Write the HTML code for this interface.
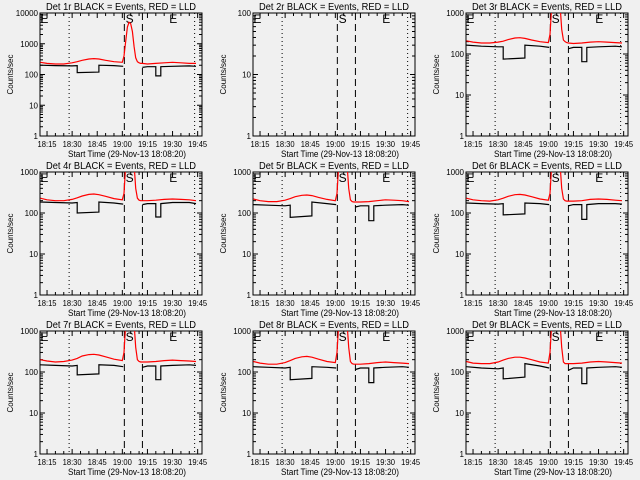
<!DOCTYPE html>
<html><head><meta charset="utf-8">
<style>
html,body{margin:0;padding:0;background:#f0f0f0;}
svg{display:block;font-family:"Liberation Sans",sans-serif;}
</style></head>
<body>
<svg id="chart" width="640" height="480" viewBox="0 0 640 480" xmlns="http://www.w3.org/2000/svg">
<rect x="0" y="0" width="640" height="480" fill="#f0f0f0"/>
</svg>
<script>
// time in minutes after 18:00
const xTickMinutes = [15,30,45,60,75,90,105];
const xTickLabels = ["18:15","18:30","18:45","19:00","19:15","19:30","19:45"];
const dottedLines = [28.2,103.2];
const dashedLines = [61.2,72];
const markerLabels = ["E","S","E"];
const markerTimes = [11,62,88];
const redT = [11,15,20,25,30,33,36,40,43,46,50,55,60,61,62,63,64,65,66,67,68,69,70,71,72,75,80,85,90,95,100,104];
const blackT = [11,20,30,33,33,46,46,55,60.5,null,72,75,80,80,83,83,90,100,104];
const detNames = ["1r","2r","3r","4r","5r","6r","7r","8r","9r"];
const yMaxDecades = [4,2,3,3,3,3,3,3,3];
const red1 = [250,230,220,220,240,260,290,320,330,320,290,260,250,400,1200,3500,5000,4500,2500,800,350,260,240,230,230,220,230,240,250,240,230,230];
const black1 = [200,195,190,195,115,120,200,195,185,null,170,180,180,90,90,180,185,190,185];
const red2 = [];
const black2 = [];
const red3 = [210,195,185,185,195,205,225,245,250,240,220,200,190,300,1500,3000,3000,3000,3000,1500,400,220,200,190,185,180,185,195,200,195,190,185];
const black3 = [165,155,150,150,75,80,165,155,145,null,135,145,145,65,65,145,150,155,150];
const red4 = [230,210,200,200,215,235,260,285,290,280,255,225,210,300,1500,3000,3000,3000,3000,1500,400,230,205,200,200,200,205,215,220,215,210,200];
const black4 = [185,180,175,180,100,105,185,175,165,null,160,170,170,80,80,170,180,180,170];
const red5 = [220,200,190,190,205,225,250,270,275,265,240,215,200,300,1500,3000,3000,3000,3000,1500,400,210,190,185,185,185,190,200,210,205,200,190];
const black5 = [160,155,150,155,78,85,185,170,160,null,140,150,150,65,65,150,155,160,155];
const red6 = [230,210,200,195,210,230,255,280,285,275,250,220,205,300,1500,3000,3000,3000,3000,1500,400,220,200,195,195,195,200,215,220,215,205,200];
const black6 = [175,170,165,170,90,95,175,170,160,null,150,160,160,70,70,160,170,170,165];
const red7 = [200,185,175,180,195,215,245,265,270,260,235,205,190,300,1500,3000,3000,3000,3000,1500,400,200,180,175,175,175,180,190,195,190,185,180];
const black7 = [150,145,140,145,85,90,150,145,135,null,130,140,140,65,65,140,145,150,145];
const red8 = [180,165,155,155,170,190,215,235,240,230,205,180,170,300,1500,3000,3000,3000,3000,1500,400,180,160,155,155,155,160,170,175,170,165,160];
const black8 = [135,130,125,130,65,70,135,130,125,null,115,125,125,55,55,125,130,135,130];
const red9 = [180,165,160,160,175,195,215,230,230,220,200,175,165,300,1500,3000,3000,3000,3000,1500,400,175,160,160,160,160,165,175,180,175,170,165];
const black9 = [135,125,120,125,68,75,160,140,125,null,110,125,125,52,52,125,130,135,130];
const redSeries = [red1,red2,red3,red4,red5,red6,red7,red8,red9];
const blackSeries = [black1,black2,black3,black4,black5,black6,black7,black8,black9];

const NS = "http://www.w3.org/2000/svg";
const svg = document.getElementById("chart");
const colX = [40,253,466], rowY = [13,172,331], PW = 162, PH = 123;
const T0 = 10.8, T1 = 107.6;
function mk(tag, attrs, parent){const e=document.createElementNS(NS,tag);for(const k in attrs)e.setAttribute(k,attrs[k]);parent.appendChild(e);return e;}

for(let p=0;p<9;p++){
  const x0 = colX[p%3], y0 = rowY[Math.floor(p/3)];
  const dec = yMaxDecades[p];
  const xs = t => x0 + (t - T0)/(T1 - T0)*PW;
  const ys = v => y0 + PH - Math.log10(v)/dec*PH;
  const g = mk("g",{},svg);
  
  
  const clip = mk("clipPath",{id:"c"+p},g);
  mk("rect",{x:x0,y:y0,width:PW,height:PH},clip);
  const frame = mk("rect",{x:x0,y:y0,width:PW,height:PH,fill:"none",stroke:"#000","stroke-width":1},g);
  
  
  const title = mk("text",{x:x0+PW/2,y:y0-3,"text-anchor":"middle","font-size":10,textLength:150,lengthAdjust:"spacingAndGlyphs"},g);
  title.textContent = "Det "+detNames[p]+" BLACK = Events, RED = LLD";
  
  
  for(let d=0; d<=dec; d++){
    const y = ys(Math.pow(10,d));
    mk("line",{x1:x0,x2:x0+5,y1:y,y2:y,stroke:"#000"},g);
    mk("line",{x1:x0+PW-5,x2:x0+PW,y1:y,y2:y,stroke:"#000"},g);
    const lab = mk("text",{x:x0-2,y:y+3,"text-anchor":"end","font-size":8},g);
    lab.textContent = String(Math.pow(10,d));
    
    
    if(d<dec) for(let m=2;m<10;m++){
      const ym = ys(m*Math.pow(10,d));
      mk("line",{x1:x0,x2:x0+3,y1:ym,y2:ym,stroke:"#000"},g);
      mk("line",{x1:x0+PW-3,x2:x0+PW,y1:ym,y2:ym,stroke:"#000"},g);
    }
  }
  const yt = mk("text",{x:0,y:0,"text-anchor":"middle","font-size":8,transform:"translate("+(x0-27)+","+(y0+PH/2)+") rotate(-90)"},g);
  yt.textContent = "Counts/sec";
  
  
  for(let m=15;m<=105;m+=5){
    const x = xs(m), major = (m%15===0), L = major?5:3;
    mk("line",{x1:x,x2:x,y1:y0+PH,y2:y0+PH-L,stroke:"#000"},g);
    mk("line",{x1:x,x2:x,y1:y0,y2:y0+L,stroke:"#000"},g);
  }
  xTickMinutes.forEach((m,i)=>{
    const t = mk("text",{x:xs(m),y:y0+PH+11,"text-anchor":"middle","font-size":8,textLength:19,lengthAdjust:"spacingAndGlyphs"},g);
    t.textContent = xTickLabels[i];
    
    
  });
  const xt = mk("text",{x:x0+PW/2+6,y:y0+PH+21,"text-anchor":"middle","font-size":9,textLength:118,lengthAdjust:"spacingAndGlyphs"},g);
  xt.textContent = "Start Time (29-Nov-13 18:08:20)";
  
  
  dottedLines.forEach(m=>{
    const l = mk("line",{x1:xs(m),x2:xs(m),y1:y0,y2:y0+PH,stroke:"#000","stroke-dasharray":"1,3"},g);
    
    
  });
  dashedLines.forEach(m=>{
    const l = mk("line",{x1:xs(m),x2:xs(m),y1:y0,y2:y0+PH,stroke:"#000","stroke-dasharray":"7,4"},g);
    
    
  });
  markerLabels.forEach((s,i)=>{
    const t = mk("text",{x:xs(markerTimes[i]),y:y0+10,"font-size":12},g);
    t.textContent = s;
    
    
  });
  const cg = mk("g",{"clip-path":"url(#c"+p+")"},g);
  const rv = redSeries[p];
  if(rv.length){
    let d="";
    rv.forEach((v,i)=>{d += (i?"L":"M")+xs(redT[i]).toFixed(1)+","+ys(v).toFixed(1);});
    const path = mk("path",{d:d,fill:"none",stroke:"#ff0000","stroke-width":1.2},cg);
    
    
  }
  const bv = blackSeries[p];
  if(bv.length){
    let d="", pen=false;
    bv.forEach((v,i)=>{
      if(v===null||blackT[i]===null){pen=false;return;}
      d += (pen?"L":"M")+xs(blackT[i]).toFixed(1)+","+ys(v).toFixed(1); pen=true;
    });
    const path = mk("path",{d:d,fill:"none",stroke:"#000","stroke-width":1.2},cg);
    
    
  }
}
</script>
</body></html>
